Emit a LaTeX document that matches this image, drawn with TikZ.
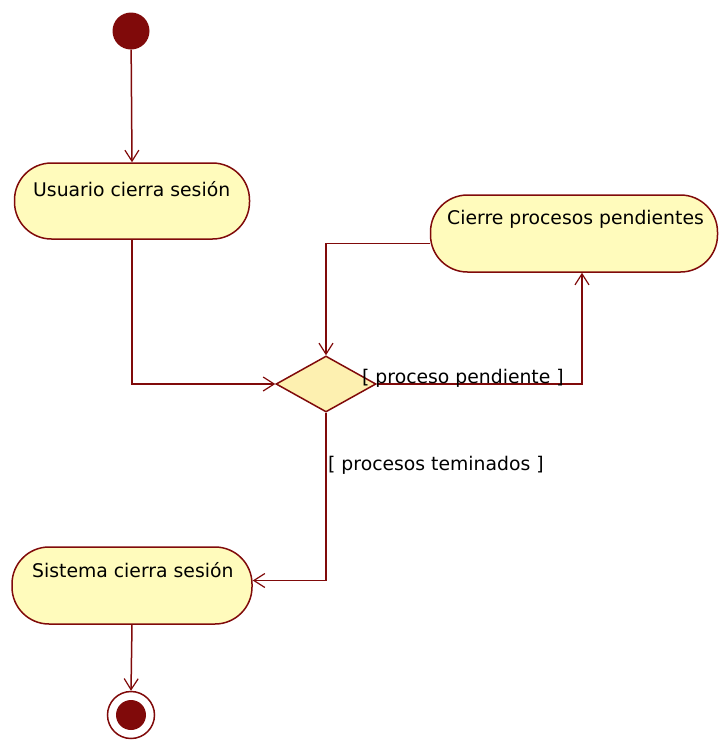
\documentclass[tikz,border=0pt]{standalone}
\usepackage{fontspec}
\setmainfont{DejaVu Sans}
\usetikzlibrary{arrows.meta,shapes.geometric}
\definecolor{ln}{RGB}{128,10,10}
\definecolor{fillc}{RGB}{255,251,188}
\definecolor{dfill}{RGB}{253,240,176}
\begin{document}
\begin{tikzpicture}[x=1pt,y=-1pt,
  act/.style={draw=ln, fill=fillc, rounded corners=37pt, line width=1.5pt, inner sep=0pt},
  dec/.style={diamond, draw=ln, fill=dfill, line width=1.5pt, inner sep=0pt, minimum width=100pt, minimum height=56pt},
  flow/.style={draw=ln, line width=1.5pt, -{Straight Barb[length=11pt,width=14pt,line width=1.2pt]}},
  txt/.style={font=\fontsize{18.8}{22}\selectfont, anchor=base west, inner sep=0pt, text=black}]
\useasboundingbox (0,0) rectangle (720,740);
\node[circle, fill=ln, minimum size=37pt, inner sep=0pt] (start) at (131,31) {};
\node[act, minimum width=235pt, minimum height=76pt] (u) at (132,201) {};
\node[txt] (ut) at (33,196) {Usuario cierra sesión};
\node[act, minimum width=287pt, minimum height=77pt] (c) at (574,233.5) {};
\node[txt] (ct) at (447,224) {Cierre procesos pendientes};
\node[dec] (d) at (326,384) {};
\node[act, minimum width=240pt, minimum height=77pt] (s) at (132,585.5) {};
\node[txt] (st) at (32,577) {Sistema cierra sesión};
\node[circle, draw=ln, fill=white, line width=1.5pt, minimum size=47pt, inner sep=0pt] (f) at (131,715) {};
\node[circle, fill=ln, minimum size=30pt, inner sep=0pt] (fi) at (f) {};
\draw[flow] (start) -- (u.north);
\draw[flow] (u.south) |- (d.west);
\draw[flow] ([yshift=-10pt]c.west) -| (d.north);
\draw[flow] (d.east) -| ([xshift=8pt]c.south);
\node[txt] (lp) at (362,383) {[ proceso pendiente ]};
\draw[flow] (d.south) |- ([yshift=5pt]s.east);
\node[txt] (lt) at (328,470) {[ procesos teminados ]};
\draw[flow] (s.south) -- (f.north);
\end{tikzpicture}
\end{document}
